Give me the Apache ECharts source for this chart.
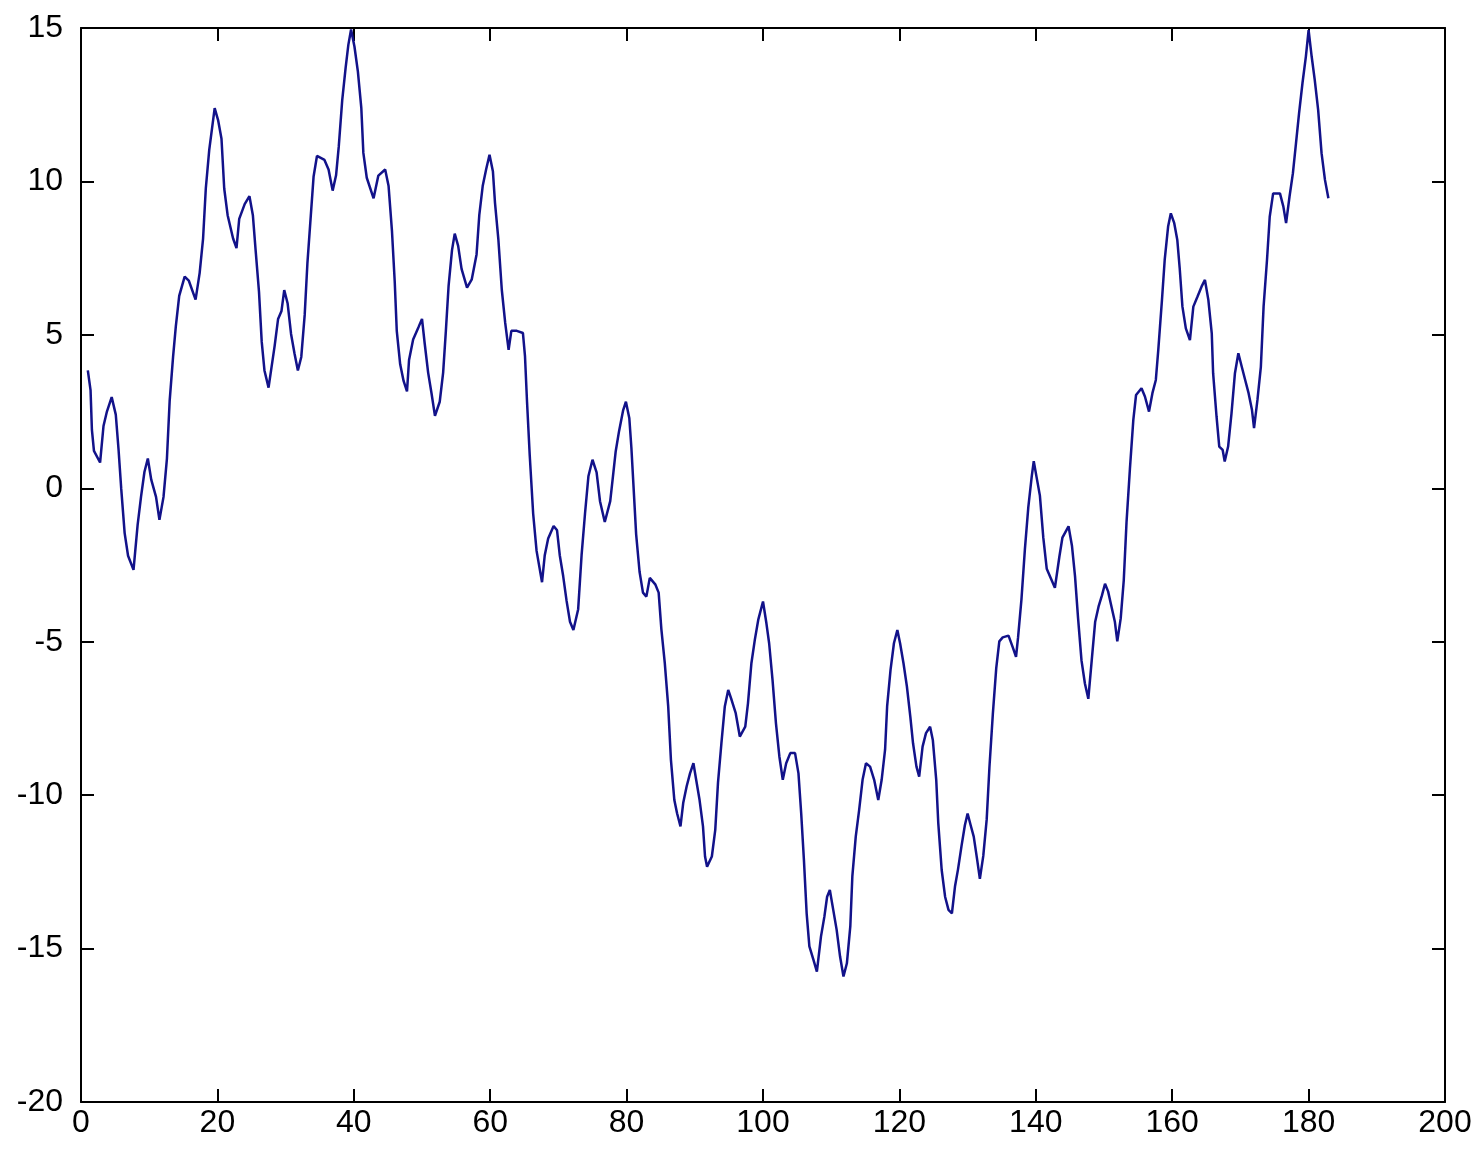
<!DOCTYPE html>
<html>
<head>
<meta charset="utf-8">
<script src="https://cdn.jsdelivr.net/npm/echarts@6/dist/echarts.min.js"></script>
<style>
html,body{margin:0;padding:0;background:#fff;}
#chart{width:1480px;height:1151px;}
</style>
</head>
<body>
<div id="chart"></div>
<script>
var xTicks = [0, 20, 40, 60, 80, 100, 120, 140, 160, 180, 200];
var yTicks = [-20, -15, -10, -5, 0, 5, 10, 15];

var xValues = [
  1.0, 1.4, 1.6, 1.9, 2.8, 3.3, 3.8, 4.5, 5.1, 5.5, 5.9, 6.4, 6.9, 7.7, 8.3, 8.8, 9.3, 9.8, 10.3, 11.0,
  11.5, 12.1, 12.6, 13.0, 13.5, 13.9, 14.4, 15.2, 15.8, 16.8, 17.4, 17.9, 18.3, 18.8, 19.6, 20.1, 20.6, 21.0, 21.5, 22.3,
  22.8, 23.2, 24.0, 24.7, 25.2, 25.6, 26.1, 26.5, 26.9, 27.5, 28.4, 28.9, 29.4, 29.8, 30.3, 30.8, 31.3, 31.8, 32.3, 32.8,
  33.2, 33.7, 34.1, 34.6, 35.7, 36.3, 36.9, 37.4, 37.8, 38.3, 38.8, 39.2, 39.6, 40.1, 40.6, 41.1, 41.4, 41.9, 42.9, 43.6,
  44.6, 45.1, 45.6, 46.0, 46.3, 46.8, 47.3, 47.8, 48.1, 48.7, 49.5, 50.0, 50.4, 50.9, 51.4, 51.9, 52.6, 53.1, 53.5, 53.9,
  54.4, 54.8, 55.3, 55.8, 56.6, 57.3, 58.0, 58.4, 58.9, 59.4, 59.9, 60.4, 60.7, 61.2, 61.7, 62.2, 62.7, 63.1, 63.9, 64.8,
  65.1, 65.4, 65.8, 66.3, 66.8, 67.6, 68.0, 68.5, 69.3, 69.8, 70.2, 70.7, 71.2, 71.7, 72.2, 72.9, 73.4, 73.9, 74.4, 75.0,
  75.6, 76.1, 76.8, 77.6, 78.0, 78.4, 78.9, 79.5, 79.9, 80.4, 80.7, 81.0, 81.4, 81.9, 82.4, 82.9, 83.4, 84.2, 84.7, 85.1,
  85.6, 86.1, 86.5, 87.0, 87.4, 87.9, 88.3, 88.8, 89.3, 89.8, 90.2, 90.7, 91.2, 91.5, 91.8, 92.5, 93.0, 93.4, 93.9, 94.4,
  94.9, 95.4, 96.0, 96.6, 97.4, 97.8, 98.3, 98.8, 99.3, 100.0, 100.5, 100.9, 101.4, 101.9, 102.4, 102.9, 103.4, 104.0, 104.7, 105.2,
  105.6, 106.0, 106.4, 106.8, 107.4, 107.9, 108.5, 109.0, 109.4, 109.8, 110.3, 110.8, 111.3, 111.8, 112.3, 112.8, 113.1, 113.6, 114.1, 114.6,
  115.1, 115.7, 116.3, 116.9, 117.4, 117.9, 118.2, 118.7, 119.2, 119.7, 120.1, 120.6, 121.1, 121.6, 122.0, 122.5, 122.9, 123.4, 123.9, 124.5,
  124.9, 125.4, 125.7, 126.2, 126.7, 127.2, 127.7, 128.15, 128.6, 129.1, 129.6, 130.0, 130.45, 130.9, 131.4, 131.8, 132.3, 132.8, 133.2, 133.7,
  134.2, 134.65, 135.15, 136.0, 136.6, 137.1, 137.4, 137.9, 138.4, 138.9, 139.4, 139.7, 140.1, 140.6, 141.1, 141.6, 142.2, 142.8, 143.45, 143.9,
  144.8, 145.3, 145.75, 146.2, 146.7, 147.2, 147.7, 148.2, 148.7, 149.2, 149.7, 150.15, 150.6, 151.1, 151.6, 151.95, 152.45, 152.9, 153.3, 153.8,
  154.3, 154.7, 155.5, 156.0, 156.6, 157.1, 157.6, 157.96, 158.5, 158.9, 159.4, 159.8, 160.3, 160.75, 161.1, 161.5, 162.0, 162.6, 163.1, 163.7,
  164.3, 164.8, 165.3, 165.8, 166.0, 166.5, 166.9, 167.4, 167.7, 168.2, 168.7, 169.2, 169.7, 170.2, 170.7, 171.2, 171.7, 172.0, 172.5, 173.0,
  173.4, 173.9, 174.3, 174.8, 175.8, 176.3, 176.7, 177.2, 177.7, 178.15, 178.6, 179.1, 179.6, 180.0, 180.45, 180.9, 181.4, 181.9, 182.4, 182.9
];

var yValues = [
  3.84, 3.2, 1.9, 1.22, 0.84, 2.03, 2.5, 2.97, 2.4, 1.28, -0.02, -1.46, -2.2, -2.66, -1.2, -0.28, 0.53, 0.97, 0.28, -0.28,
  -1.03, -0.28, 0.97, 2.85, 4.28, 5.27, 6.27, 6.9, 6.77, 6.15, 7.02, 8.14, 9.77, 11.02, 12.39, 12.0, 11.39, 9.77, 8.9, 8.14,
  7.83, 8.78, 9.26, 9.52, 8.9, 7.77, 6.4, 4.77, 3.84, 3.28, 4.65, 5.52, 5.78, 6.46, 6.02, 5.03, 4.4, 3.84, 4.28, 5.65,
  7.34, 8.9, 10.15, 10.83, 10.7, 10.39, 9.7, 10.2, 11.15, 12.64, 13.7, 14.45, 14.95, 14.39, 13.58, 12.4, 10.93, 10.12, 9.45, 10.19,
  10.39, 9.85, 8.37, 6.74, 5.13, 4.04, 3.5, 3.16, 4.18, 4.85, 5.26, 5.52, 4.71, 3.77, 3.09, 2.36, 2.82, 3.77, 5.13, 6.6,
  7.76, 8.3, 7.9, 7.15, 6.54, 6.81, 7.62, 8.9, 9.85, 10.39, 10.87, 10.32, 9.31, 8.1, 6.47, 5.39, 4.51, 5.13, 5.13, 5.06,
  4.31, 2.82, 1.06, -0.83, -2.04, -3.06, -2.18, -1.64, -1.23, -1.37, -2.18, -2.86, -3.67, -4.35, -4.62, -3.94, -2.18, -0.83, 0.39, 0.93,
  0.52, -0.42, -1.1, -0.42, 0.39, 1.2, 1.87, 2.55, 2.82, 2.28, 1.33, 0.12, -1.5, -2.72, -3.4, -3.53, -2.92, -3.13, -3.4, -4.6,
  -5.7, -7.11, -8.85, -10.16, -10.59, -11.02, -10.26, -9.72, -9.29, -8.96, -9.5, -10.16, -11.02, -12.0, -12.33, -12.0, -11.13, -9.6, -8.31, -7.11,
  -6.57, -6.9, -7.33, -8.09, -7.77, -7.0, -5.7, -4.94, -4.29, -3.69, -4.4, -5.05, -6.25, -7.66, -8.74, -9.5, -8.96, -8.63, -8.63, -9.29,
  -10.59, -12.11, -13.85, -14.93, -15.37, -15.75, -14.61, -13.96, -13.31, -13.09, -13.74, -14.39, -15.26, -15.91, -15.48, -14.28, -12.65, -11.35, -10.48, -9.5,
  -8.96, -9.07, -9.5, -10.16, -9.5, -8.52, -7.11, -5.92, -5.05, -4.62, -5.05, -5.7, -6.46, -7.44, -8.31, -9.07, -9.4, -8.42, -7.98, -7.77,
  -8.2, -9.5, -10.91, -12.44, -13.31, -13.74, -13.85, -12.98, -12.41, -11.67, -10.98, -10.6, -10.98, -11.35, -12.1, -12.73, -11.98, -10.79, -9.1, -7.36,
  -5.86, -4.99, -4.86, -4.8, -5.17, -5.49, -4.86, -3.61, -1.99, -0.62, 0.38, 0.88, 0.38, -0.24, -1.61, -2.62, -2.93, -3.24, -2.24, -1.61,
  -1.24, -1.87, -2.86, -4.24, -5.61, -6.36, -6.86, -5.61, -4.36, -3.86, -3.49, -3.11, -3.36, -3.86, -4.36, -4.99, -4.24, -2.99, -1.12, 0.63,
  2.23, 3.04, 3.26, 2.99, 2.5, 3.1, 3.53, 4.51, 6.14, 7.44, 8.53, 8.96, 8.64, 8.09, 7.17, 5.92, 5.21, 4.83, 5.92, 6.24,
  6.57, 6.79, 6.14, 5.05, 3.75, 2.34, 1.36, 1.25, 0.87, 1.36, 2.45, 3.75, 4.4, 3.96, 3.53, 3.1, 2.55, 1.96, 2.88, 3.96,
  5.92, 7.44, 8.85, 9.61, 9.61, 9.18, 8.64, 9.5, 10.27, 11.24, 12.22, 13.2, 14.07, 14.93, 14.07, 13.31, 12.33, 10.92, 10.05, 9.45
];

var seriesData = [];
for (var i = 0; i < Math.min(xValues.length, yValues.length); i++) {
  seriesData.push([xValues[i], yValues[i]]);
}

var FONT = '"Liberation Sans", Arial, sans-serif';
var axisLineStyle = { color: '#000', width: 2 };
var tickStyle = { color: '#000', width: 2 };

function xAxisCfg(pos, showLabels) {
  return {
    type: 'value', position: pos, min: 0, max: 200, interval: 20,
    axisLine: { show: true, onZero: false, lineStyle: axisLineStyle },
    axisTick: { show: true, inside: true, length: 13, lineStyle: tickStyle },
    axisLabel: { show: showLabels, color: '#000', fontSize: 32, fontFamily: FONT, margin: 5 },
    splitLine: { show: false }
  };
}
function yAxisCfg(pos, showLabels) {
  return {
    type: 'value', position: pos, min: -20, max: 15, interval: 5,
    axisLine: { show: true, onZero: false, lineStyle: axisLineStyle },
    axisTick: { show: true, inside: true, length: 13, lineStyle: tickStyle },
    axisLabel: { show: showLabels, color: '#000', fontSize: 32, fontFamily: FONT, margin: 18, padding: [0, 0, 8, 0] },
    splitLine: { show: false }
  };
}

var chart = echarts.init(document.getElementById('chart'), null, { renderer: 'canvas' });
chart.setOption({
  backgroundColor: '#ffffff',
  animation: false,
  grid: { left: 81, right: 35, top: 28, bottom: 49, containLabel: false },
  xAxis: [xAxisCfg('bottom', true), xAxisCfg('top', false)],
  yAxis: [yAxisCfg('left', true), yAxisCfg('right', false)],
  series: [{
    type: 'line',
    xAxisIndex: 0,
    yAxisIndex: 0,
    data: seriesData,
    showSymbol: false,
    symbol: 'none',
    smooth: false,
    clip: false,
    lineStyle: { color: '#12128a', width: 2.5 }
  }]
});
</script>
</body>
</html>
